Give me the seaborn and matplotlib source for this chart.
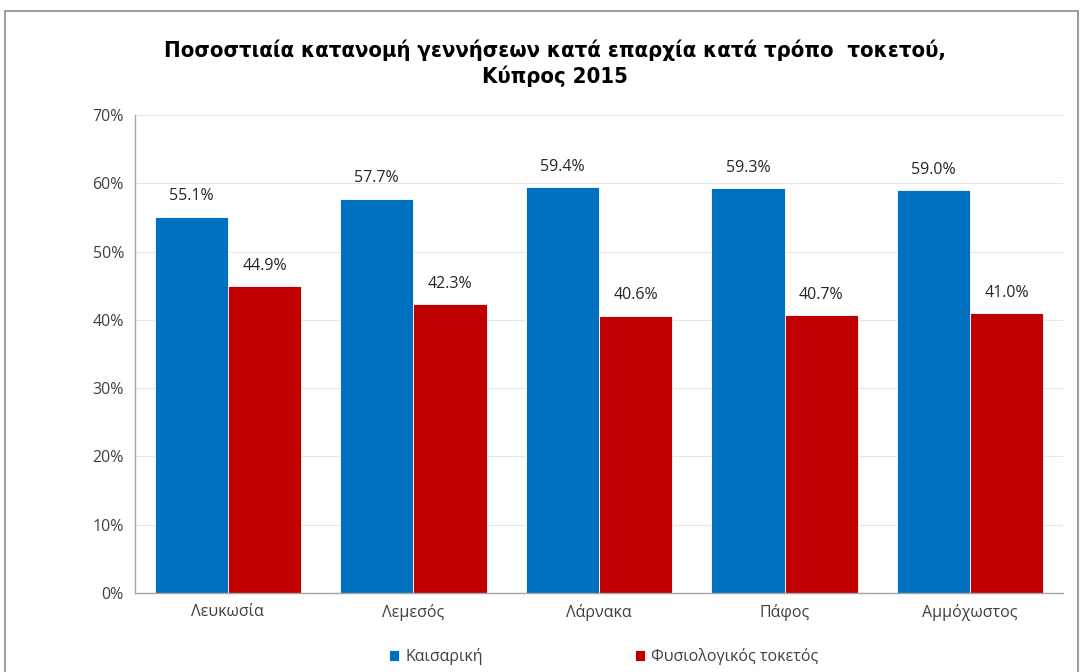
import matplotlib
matplotlib.use("Agg")
import matplotlib.pyplot as plt
import seaborn as sns
import pandas as pd
from matplotlib.patches import Rectangle
from matplotlib.ticker import PercentFormatter

districts = ["Λευκωσία", "Λεμεσός", "Λάρνακα", "Πάφος", "Αμμόχωστος"]
series_names = ["Καισαρική", "Φυσιολογικός τοκετός"]
caesarean = [55.1, 57.7, 59.4, 59.3, 59.0]
natural = [44.9, 42.3, 40.6, 40.7, 41.0]
y_ticks = [0, 10, 20, 30, 40, 50, 60, 70]
title_text = "Ποσοστιαία κατανομή γεννήσεων κατά επαρχία κατά τρόπο  τοκετού,\nΚύπρος 2015"

df = pd.DataFrame({
    "district": districts * 2,
    "mode": [series_names[0]] * len(districts) + [series_names[1]] * len(districts),
    "value": caesarean + natural,
})

sns.set_theme(style="white")
plt.rcParams['font.family'] = ['Open Sans', 'DejaVu Sans']

fig = plt.figure(figsize=(10.83, 6.72), dpi=100)
ax = fig.add_axes([0.1247, 0.1176, 0.9815 - 0.1247, 0.8289 - 0.1176])

palette = {series_names[0]: "#0070C0", series_names[1]: "#C00000"}
sns.barplot(data=df, x="district", y="value", hue="mode", order=districts,
            hue_order=series_names, palette=palette, width=0.79, saturation=1,
            edgecolor="white", linewidth=0.6, ax=ax, legend=True)

for cont in ax.containers:
    ax.bar_label(cont, labels=[f"{v:.1f}%" for v in cont.datavalues],
                 padding=9, fontsize=11.5, color="#262626")

ax.set_ylim(0, 70)
ax.set_xlim(-0.5, 4.5)
ax.set_yticks(y_ticks)
ax.yaxis.set_major_formatter(PercentFormatter(decimals=0))
ax.grid(axis="y", color="#E6E6E6", linewidth=0.8)
ax.set_axisbelow(True)
ax.set_xlabel("")
ax.set_ylabel("")
for s in ["top", "right"]:
    ax.spines[s].set_visible(False)
for s in ["left", "bottom"]:
    ax.spines[s].set_color("#A6A6A6")
    ax.spines[s].set_linewidth(1)
ax.tick_params(axis="both", length=0, labelsize=11.5, colors="#404040", pad=8)

leg = ax.legend(loc="upper center", bbox_to_anchor=(0.505, -0.085), ncol=2,
                frameon=False, fontsize=11.5, handlelength=0.65, handleheight=0.65,
                columnspacing=9.5, handletextpad=0.4)
for t in leg.get_texts():
    t.set_color("#404040")

fig.text(0.512, 0.906, title_text, ha="center", va="center", fontsize=15.8,
         fontweight="bold", linespacing=1.3,
         family=['DejaVu Sans Condensed', 'DejaVu Sans'], fontstretch="condensed",
         color="black")

fig.patches.append(Rectangle((0.005, -0.05), 0.99, 1.034, transform=fig.transFigure,
                             fill=False, edgecolor="#8C8C8C", linewidth=1.2))

fig.savefig("out.png", dpi=100)
